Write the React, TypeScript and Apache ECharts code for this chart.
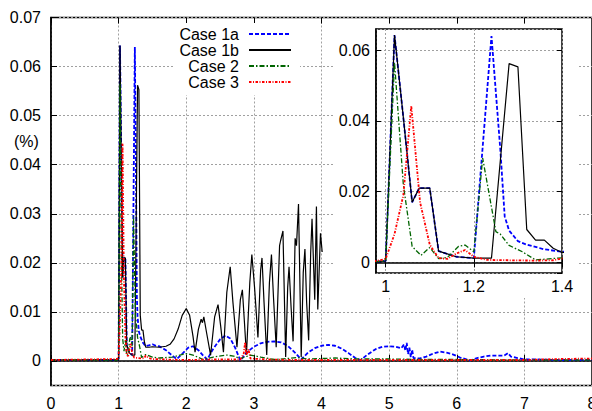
import React, { useEffect, useRef } from 'react';
import * as echarts from 'echarts';

const seriesNames = ['Case 1a', 'Case 1b', 'Case 2', 'Case 3'];
const seriesColors = ['#0000ff', '#000000', '#006400', '#ff0000'];

const case1a: [number, number][] = [
  [0, 0.0002], [0.98, 0.0002], [1.0, 0.0004], [1.02, 0.0643], [1.04, 0.041], [1.06, 0.017],
  [1.076, 0.021], [1.1, 0.021], [1.12, 0.0032], [1.16, 0.0016], [1.2, 0.0012], [1.24, 0.064],
  [1.26, 0.032], [1.27, 0.013], [1.28, 0.009], [1.3, 0.006], [1.32, 0.005], [1.36, 0.0037],
  [1.4, 0.003], [1.45, 0.0032], [1.5, 0.0034], [1.55, 0.0031], [1.6, 0.003], [1.7, 0.0022],
  [1.8, 0.001], [1.86, 0.0004], [1.95, 0.0016], [2.03, 0.0027], [2.1, 0.003], [2.18, 0.0022],
  [2.25, 0.0011], [2.31, 0.0003], [2.4, 0.0025], [2.5, 0.0044], [2.58, 0.0052], [2.65, 0.0046],
  [2.72, 0.0028], [2.8, 0.0001], [2.9, 0.0018], [3.0, 0.0029], [3.1, 0.0036], [3.2, 0.0039],
  [3.3, 0.004], [3.4, 0.0038], [3.5, 0.0031], [3.6, 0.0018], [3.7, 0.0003], [3.8, 0.0017],
  [3.9, 0.0026], [4.0, 0.0031], [4.1, 0.0033], [4.2, 0.0031], [4.3, 0.0025], [4.4, 0.0016],
  [4.5, 0.0006], [4.58, 0.0002], [4.68, 0.0013], [4.8, 0.0024], [4.9, 0.0029], [5.0, 0.003],
  [5.1, 0.0029], [5.18, 0.0026], [5.22, 0.0034], [5.24, 0.0021], [5.26, 0.0037], [5.28, 0.0014],
  [5.3, 0.0027], [5.32, 0.0008], [5.34, 0.0023], [5.36, 0.0006], [5.45, 0.0005], [5.55, 0.0009],
  [5.65, 0.0015], [5.75, 0.0019], [5.85, 0.0017], [5.95, 0.0013], [6.05, 0.0007], [6.2, 0.0001],
  [6.3, 0.0006], [6.4, 0.0009], [6.5, 0.0011], [6.6, 0.0011], [6.7, 0.0011], [6.76, 0.0016],
  [6.8, 0.0009], [6.9, 0.0006], [7.0, 0.0003], [7.2, 0.0003], [7.5, 0.0002], [8, 0.0002],
];

const case1b: [number, number][] = [
  [0, 0.0002], [0.98, 0.0002], [1.0, 0.0004], [1.02, 0.0643], [1.04, 0.041], [1.06, 0.017],
  [1.076, 0.021], [1.1, 0.021], [1.12, 0.0032], [1.16, 0.0016], [1.2, 0.0012], [1.24, 0.0012],
  [1.28, 0.0562], [1.3, 0.0553], [1.32, 0.0093], [1.34, 0.0063], [1.36, 0.0063], [1.38, 0.004],
  [1.4, 0.0028], [1.45, 0.0028], [1.5, 0.0029], [1.6, 0.0028], [1.7, 0.003], [1.76, 0.0034],
  [1.82, 0.0045], [1.88, 0.0065], [1.94, 0.0093], [2.0, 0.0107], [2.05, 0.0093], [2.1, 0.005],
  [2.13, 0.0018], [2.18, 0.0065], [2.22, 0.0085], [2.24, 0.0078], [2.26, 0.009], [2.3, 0.0058],
  [2.36, 0.0012], [2.42, 0.009], [2.47, 0.0115], [2.51, 0.007], [2.55, 0.0018], [2.6, 0.014],
  [2.65, 0.0192], [2.69, 0.012], [2.75, 0.0028], [2.8, 0.0125], [2.83, 0.0145], [2.86, 0.008],
  [2.89, 0.0012], [2.94, 0.016], [2.97, 0.0217], [3.01, 0.015], [3.06, 0.0048], [3.1, 0.0185],
  [3.12, 0.021], [3.15, 0.012], [3.19, 0.0012], [3.23, 0.016], [3.26, 0.0217], [3.29, 0.013],
  [3.33, 0.0028], [3.38, 0.0235], [3.395, 0.0245], [3.43, 0.0265], [3.47, 0.0008], [3.5, 0.015],
  [3.52, 0.0192], [3.55, 0.011], [3.58, 0.004], [3.61, 0.025], [3.63, 0.0235], [3.66, 0.032],
  [3.7, 0.0008], [3.73, 0.018], [3.755, 0.0228], [3.78, 0.012], [3.81, 0.0042], [3.84, 0.022],
  [3.86, 0.029], [3.9, 0.0125], [3.925, 0.0315], [3.945, 0.0105], [3.985, 0.026], [4.01, 0.0222],
];

const case2: [number, number][] = [
  [0, 0.0002], [0.98, 0.0002], [1.0, 0.0005], [1.02, 0.0565], [1.04, 0.022], [1.06, 0.0045],
  [1.08, 0.002], [1.1, 0.0042], [1.12, 0.0011], [1.14, 0.0014], [1.165, 0.0045], [1.18, 0.0049],
  [1.2, 0.003], [1.22, 0.0295], [1.25, 0.0087], [1.26, 0.008], [1.28, 0.0048], [1.31, 0.003],
  [1.34, 0.0007], [1.37, 0.001], [1.4, 0.0013], [1.5, 0.0008], [1.6, 0.0006], [1.8, 0.0008],
  [2.0, 0.0015], [2.1, 0.0012], [2.25, 0.0003], [2.4, 0.0008], [2.6, 0.0012], [2.7, 0.001],
  [2.8, 0.0005], [2.95, 0.0012], [3.1, 0.0008], [3.3, 0.0003], [3.5, 0.0005], [3.65, 0.0007],
  [3.8, 0.0004], [4.0, 0.0005], [4.2, 0.0006], [4.5, 0.0004], [5.0, 0.0004], [5.5, 0.0003],
  [6.0, 0.0003], [7.0, 0.0002], [8.0, 0.0002],
];

const case3: [number, number][] = [
  [0, 0.0002], [0.98, 0.0004], [1.0, 0.001], [1.02, 0.008], [1.04, 0.019], [1.058, 0.0443],
  [1.078, 0.017], [1.1, 0.005], [1.12, 0.0012], [1.14, 0.001], [1.16, 0.0025], [1.18, 0.0035],
  [1.2, 0.0016], [1.23, 0.0007], [1.28, 0.0006], [1.34, 0.0005], [1.38, 0.0006], [1.4, 0.0011],
  [1.45, 0.0006], [1.5, 0.0004], [1.7, 0.0003], [2.0, 0.0002], [2.4, 0.0003], [2.8, 0.0003],
  [2.85, 0.0015], [2.87, 0.0038], [2.89, 0.0012], [2.92, 0.0024], [2.95, 0.0005], [3.2, 0.0003],
  [3.6, 0.0002], [4.0, 0.0002], [5.0, 0.0002], [6.0, 0.0002], [7.0, 0.0002], [7.5, 0.0004],
  [8, 0.0005],
];

const seriesData = [case1a, case1b, case2, case3];
const lineTypes: any[] = [[4, 2], 'solid', [5, 2, 1.5, 2], [2.5, 1.5, 1, 1.5]];
const lineWidths = [1.8, 1.2, 1.3, 1.8];

const mainXMin = 0, mainXMax = 8, mainXStep = 1;
const mainYMin = -0.005, mainYMax = 0.07;
const insetXMin = 0.978, insetXMax = 1.4;
const insetYMin = -0.003, insetYMax = 0.066;

const FONT = '"Liberation Sans", Arial, sans-serif';
const splitStyle = { show: true, lineStyle: { color: '#a0a0a0', type: [2, 2] as any, width: 1 } };

export default function App() {
  const ref = useRef<HTMLDivElement>(null);
  useEffect(() => {
    document.body.style.margin = '0';
    const chart = echarts.init(ref.current!, null, { renderer: 'svg' });
    const labelStyle = { color: '#000', fontSize: 16, fontFamily: FONT };
    const option: any = {
      animation: false,
      backgroundColor: '#fff',
      grid: [
        { left: 51, top: 17.5, right: 0, bottom: 25.5, show: true, borderColor: '#000', borderWidth: 1.5, backgroundColor: 'transparent', containLabel: false, outerBoundsMode: 'none' },
        { left: 376, top: 29, width: 186, height: 244, show: true, borderColor: '#000', borderWidth: 1.5, backgroundColor: 'transparent', z: 3, containLabel: false, outerBoundsMode: 'none' },
      ],
      xAxis: [
        {
          type: 'value', gridIndex: 0, min: mainXMin, max: mainXMax, interval: mainXStep,
          axisLine: { show: true, lineStyle: { color: '#000', width: 1.5 } },
          axisTick: { show: true, inside: true, length: 6, lineStyle: { color: '#000' } },
          axisLabel: { ...labelStyle, margin: 10 },
          splitLine: splitStyle,
        },
        {
          type: 'value', gridIndex: 0, position: 'top', min: mainXMin, max: mainXMax, interval: mainXStep,
          axisLine: { show: false },
          axisTick: { show: true, inside: true, length: 6, lineStyle: { color: '#000' } },
          axisLabel: { show: false }, splitLine: { show: false },
        },
        {
          type: 'value', gridIndex: 1, min: insetXMin, max: insetXMax, splitNumber: 2, z: 3,
          axisLine: { show: true, lineStyle: { color: '#000', width: 1.5 } },
          axisTick: { show: true, inside: true, length: 5, lineStyle: { color: '#000' } },
          axisLabel: { ...labelStyle, margin: 5, showMinLabel: false },
          splitLine: splitStyle,
        },
        {
          type: 'value', gridIndex: 1, position: 'top', min: insetXMin, max: insetXMax, splitNumber: 2, z: 3,
          axisLine: { show: false },
          axisTick: { show: true, inside: true, length: 5, lineStyle: { color: '#000' } },
          axisLabel: { show: false }, splitLine: { show: false },
        },
      ],
      yAxis: [
        {
          type: 'value', gridIndex: 0, min: mainYMin, max: mainYMax, splitNumber: 7,
          axisLine: { show: true, lineStyle: { color: '#000', width: 1.5 } },
          axisTick: { show: true, inside: true, length: 6, lineStyle: { color: '#000' } },
          axisLabel: { ...labelStyle, margin: 10, showMinLabel: false },
          splitLine: splitStyle,
        },
        {
          type: 'value', gridIndex: 1, min: insetYMin, max: insetYMax, splitNumber: 3, z: 3,
          axisLine: { show: true, lineStyle: { color: '#000', width: 1.5 } },
          axisTick: { show: true, inside: true, length: 5, lineStyle: { color: '#000' } },
          axisLabel: { ...labelStyle, margin: 6, showMinLabel: false, showMaxLabel: false },
          splitLine: splitStyle,
        },
        {
          type: 'value', gridIndex: 1, position: 'right', min: insetYMin, max: insetYMax, splitNumber: 3, z: 3,
          axisLine: { show: false },
          axisTick: { show: true, inside: true, length: 5, lineStyle: { color: '#000' } },
          axisLabel: { show: false }, splitLine: { show: false },
        },
      ],
      legend: seriesNames.map((n, i) => ({
        data: [n], right: 300, top: 26 + i * 16, align: 'right', orient: 'horizontal',
        itemWidth: 42, itemHeight: 10, padding: 0, selectedMode: false,
        itemStyle: { opacity: 0, borderWidth: 0 },
        textStyle: { fontSize: 16, fontFamily: FONT, color: '#000', lineHeight: 16, padding: [0, 5, 0, 0] },
      })),
      graphic: [
        { type: 'rect', z: 1, shape: { x: 173, y: 23, width: 127, height: 72 }, style: { fill: '#fff' }, silent: true },
        { type: 'rect', z: 1, shape: { x: 333, y: 24, width: 245, height: 274 }, style: { fill: '#fff' }, silent: true },
        { type: 'text', left: 14, top: 133, style: { text: '(%)', fontSize: 16, fontFamily: FONT, fill: '#000' } },
      ],
      series: [
        ...seriesNames.map((n, i) => ({
          name: n, type: 'line', xAxisIndex: 0, yAxisIndex: 0, data: seriesData[i],
          symbol: 'none', clip: true, z: 2,
          lineStyle: { color: seriesColors[i], width: lineWidths[i], type: lineTypes[i] },
          itemStyle: { color: seriesColors[i] },
        })),
        ...seriesNames.map((n, i) => ({
          name: n, type: 'line', xAxisIndex: 2, yAxisIndex: 1, data: seriesData[i],
          symbol: 'none', clip: true, z: 4,
          lineStyle: { color: seriesColors[i], width: lineWidths[i], type: lineTypes[i] },
          itemStyle: { color: seriesColors[i] },
        })),
      ],
    };
    chart.setOption(option);
    return () => chart.dispose();
  }, []);
  return <div ref={ref} style={{ width: 592, height: 411 }} />;
}
